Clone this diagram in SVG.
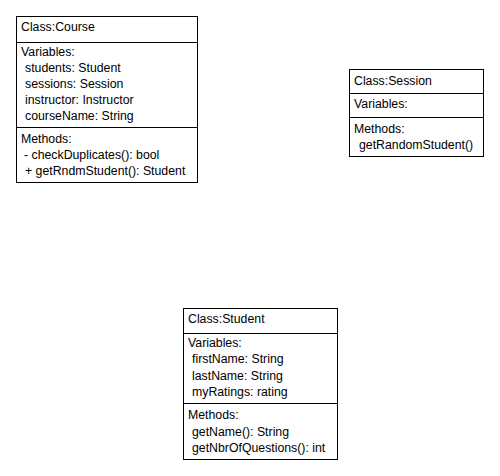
<svg xmlns="http://www.w3.org/2000/svg" width="500" height="476" viewBox="0 0 500 476">
<style>
.box{fill:#fff;stroke:#000;stroke-width:1}
.div{stroke:#000;stroke-width:1}
text{font-family:"Liberation Sans",Arial,sans-serif;font-size:12.3px;fill:#000}
</style>
<rect width="500" height="476" fill="#fff"/>
<g id="connectors"></g>
<g id="course">
<rect class="box" x="16.5" y="16.5" width="181" height="166"/>
<line class="div" x1="16" y1="42.5" x2="198" y2="42.5"/>
<line class="div" x1="16" y1="127.5" x2="198" y2="127.5"/>
<text x="21" y="31">Class:Course</text>
<text x="21" y="56">Variables:</text>
<text x="25" y="72">students: Student</text>
<text x="25" y="88">sessions: Session</text>
<text x="25" y="104">instructor: Instructor</text>
<text x="25" y="120">courseName: String</text>
<text x="21" y="143">Methods:</text>
<text x="24" y="159">- checkDuplicates(): bool</text>
<text x="25" y="175">+ getRndmStudent(): Student</text>
</g>
<g id="session">
<rect class="box" x="349.5" y="69.5" width="134" height="87"/>
<line class="div" x1="349" y1="93.5" x2="484" y2="93.5"/>
<line class="div" x1="349" y1="117.5" x2="484" y2="117.5"/>
<text x="354" y="85">Class:Session</text>
<text x="354" y="108">Variables:</text>
<text x="354" y="133">Methods:</text>
<text x="359" y="149">getRandomStudent()</text>
</g>
<g id="student">
<rect class="box" x="183.5" y="308.5" width="154" height="151"/>
<line class="div" x1="183" y1="333.5" x2="338" y2="333.5"/>
<line class="div" x1="183" y1="403.5" x2="338" y2="403.5"/>
<text x="188" y="323">Class:Student</text>
<text x="188" y="347">Variables:</text>
<text x="192" y="363">firstName: String</text>
<text x="192" y="380">lastName: String</text>
<text x="192" y="396">myRatings: rating</text>
<text x="188" y="419">Methods:</text>
<text x="192" y="436">getName(): String</text>
<text x="192" y="452">getNbrOfQuestions(): int</text>
</g>
</svg>
